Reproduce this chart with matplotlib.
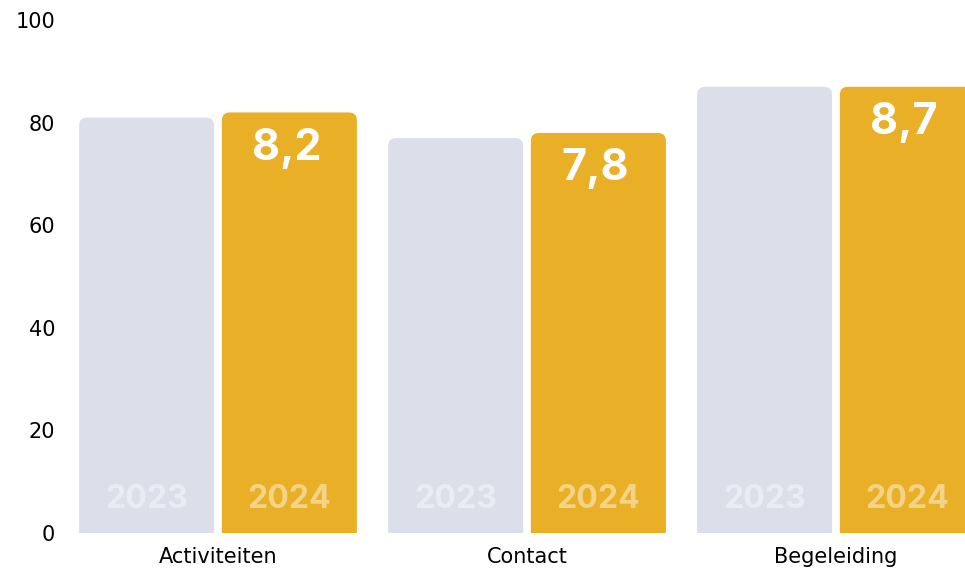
import numpy as np
import matplotlib
matplotlib.use("Agg")
import matplotlib.pyplot as plt
from matplotlib.patches import FancyBboxPatch

plt.rcParams['font.family'] = ['Inter', 'DejaVu Sans']

# data
categories = ['Activiteiten', 'Contact', 'Begeleiding']
scores_2023 = [81, 77, 87]
scores_2024 = [82, 78, 87]
labels_2024 = ['8,2', '7,8', '8,7']
years = ['2023', '2024']

col_2023 = '#DCDEEA'
col_2024 = '#E9B027'

fig = plt.figure(figsize=(9.65, 5.68), dpi=100)
ax = fig.add_axes([0.0658, 0.0616, 0.9606, 0.903])

x = np.arange(len(categories))
w = 0.437
off = 0.231

# rounded top corners: box extends below 0 and gets clipped by the axes
r = 0.026
aspect = 60


def rounded_bar(xc, h, color):
    p = FancyBboxPatch((xc - w / 2, -10), w, h + 10,
                       boxstyle=f"round,pad=0,rounding_size={r}",
                       mutation_aspect=aspect,
                       fc=color, ec='none')
    ax.add_patch(p)


for i in range(len(categories)):
    rounded_bar(x[i] - off, scores_2023[i], col_2023)
    rounded_bar(x[i] + off, scores_2024[i], col_2024)
    ax.text(x[i] - off, 6.5, years[0], ha='center', va='center',
            fontsize=23, fontweight='bold', color='white', alpha=0.45)
    ax.text(x[i] + off, 6.5, years[1], ha='center', va='center',
            fontsize=23, fontweight='bold', color='white', alpha=0.45)
    ax.text(x[i] + off - 0.01, scores_2024[i] - 7, labels_2024[i], ha='center',
            va='center', fontsize=31, fontweight='bold', color='white')

ax.set_xlim(-0.5, 2.5)
ax.set_ylim(0, 100)
ax.set_yticks(np.arange(0, 101, 20))
ax.set_xticks(x)
ax.set_xticklabels(categories)
ax.tick_params(axis='both', length=0, labelsize=15, colors='black')
ax.tick_params(axis='x', pad=10)
ax.tick_params(axis='y', pad=6)
for lbl in ax.get_xticklabels() + ax.get_yticklabels():
    lbl.set_fontfamily('DejaVu Sans')
for s in ax.spines.values():
    s.set_visible(False)

fig.savefig('out.png', dpi=100)
